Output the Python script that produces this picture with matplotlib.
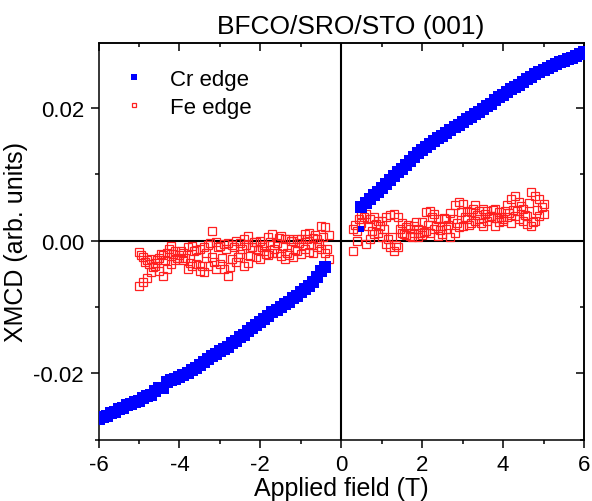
import matplotlib
matplotlib.use('Agg')
import matplotlib.pyplot as plt
from matplotlib.ticker import MultipleLocator, FormatStrFormatter, NullFormatter

plt.rcParams['font.family'] = ['Liberation Sans', 'DejaVu Sans']
plt.rcParams['axes.unicode_minus'] = False

# Cr edge, negative field branch (T) and XMCD (x1e-3)
cr_neg_field = [-6.0, -5.9, -5.8, -5.7, -5.6, -5.5, -5.4, -5.3, -5.2, -5.1,
                -5.0, -4.9, -4.8, -4.7, -4.6, -4.5, -4.4, -4.3, -4.2, -4.1,
                -4.0, -3.9, -3.8, -3.7, -3.6, -3.5, -3.4, -3.3, -3.2, -3.1,
                -3.0, -2.9, -2.8, -2.7, -2.6, -2.5, -2.4, -2.3, -2.2, -2.1,
                -2.0, -1.9, -1.8, -1.7, -1.6, -1.5, -1.4, -1.3, -1.2, -1.1,
                -1.0, -0.9, -0.8, -0.7, -0.6, -0.5, -0.4]
cr_neg_xmcd = [-26.9, -26.6, -26.5, -26.0, -25.8, -25.4, -25.2, -24.8, -24.7, -24.3,
               -24.2, -23.8, -23.5, -23.3, -22.7, -22.3, -22.2, -21.4, -21.0, -20.9,
               -20.6, -20.3, -19.9, -19.5, -19.2, -18.8, -18.3, -17.9, -17.4, -17.1,
               -16.7, -16.4, -16.0, -15.5, -15.1, -14.6, -14.2, -13.7, -13.2, -12.8,
               -12.3, -11.9, -11.3, -10.8, -10.5, -10.0, -9.6, -9.2, -8.7, -8.3,
               -7.8, -7.3, -6.9, -6.3, -5.5, -4.6, -4.0]

# Cr edge, positive field branch
cr_pos_field = [0.5, 0.6, 0.7, 0.8, 0.9, 1.0, 1.1, 1.2, 1.3, 1.4,
                1.5, 1.6, 1.7, 1.8, 1.9, 2.0, 2.1, 2.2, 2.3, 2.4,
                2.5, 2.6, 2.7, 2.8, 2.9, 3.0, 3.1, 3.2, 3.3, 3.4,
                3.5, 3.6, 3.7, 3.8, 3.9, 4.0, 4.1, 4.2, 4.3, 4.4,
                4.5, 4.6, 4.7, 4.8, 4.9, 5.0, 5.1, 5.2, 5.3, 5.4,
                5.5, 5.6, 5.7, 5.8, 5.9, 6.0]
cr_pos_xmcd = [5.0, 5.6, 6.3, 6.9, 7.4, 7.9, 8.6, 9.2, 9.8, 10.3,
               10.8, 11.4, 12.0, 12.6, 13.2, 13.7, 14.1, 14.6, 15.0, 15.4,
               15.8, 16.2, 16.7, 17.1, 17.5, 17.9, 18.3, 18.7, 19.1, 19.4,
               19.8, 20.3, 20.6, 21.2, 21.6, 22.0, 22.4, 22.8, 23.1, 23.5,
               23.9, 24.3, 24.7, 25.1, 25.5, 25.8, 26.1, 26.4, 26.6, 26.9,
               27.1, 27.4, 27.6, 27.9, 28.2, 28.5]
# lone Cr point near the origin
cr_stray_field = [0.48]
cr_stray_xmcd = [1.7]

# Fe edge, negative fields: three sweeps
fe_neg_field = [-5.0, -4.9, -4.8, -4.7, -4.6, -4.5, -4.4, -4.3, -4.2, -4.1,
                -4.0, -3.9, -3.8, -3.7, -3.6, -3.5, -3.4, -3.3, -3.2, -3.1,
                -3.0, -2.9, -2.8, -2.7, -2.6, -2.5, -2.4, -2.3, -2.2, -2.1,
                -2.0, -1.9, -1.8, -1.7, -1.6, -1.5, -1.4, -1.3, -1.2, -1.1,
                -1.0, -0.9, -0.8, -0.7, -0.6, -0.5, -0.4, -0.3]
fe_neg_sweep1 = [-1.7, -2.5, -3.0, -2.8, -3.4, -2.6, -2.2, -1.9, -0.8, -1.6,
                 -2.2, -1.9, -1.0, -0.8, -1.4, -1.2, -0.9, -0.6, 1.4, -0.2,
                 -0.8, -0.5, -0.3, -0.6, 0.0, -0.3, 0.2, 0.7, -0.9, -0.2,
                 0.0, -0.6, 0.6, 1.0, -0.3, 0.7, 0.3, 0.2, -0.1, 0.2,
                 0.3, 1.0, 1.2, 0.4, 0.2, 2.2, 2.0, 0.8]
fe_neg_sweep2 = [-6.8, -6.3, -5.6, -4.8, -3.8, -4.6, -5.3, -4.3, -3.5, -3.0,
                 -2.6, -3.0, -4.3, -3.8, -3.5, -4.6, -4.7, -3.9, -2.5, -4.3,
                 -3.6, -4.3, -5.3, -2.8, -3.2, -2.0, -3.8, -3.4, -1.0, -2.4,
                 -2.8, -1.5, -2.2, -1.8, -1.8, -2.3, -2.8, -2.2, -2.5, -1.6,
                 -2.0, -1.3, -1.7, -1.8, -1.0, -1.3, -1.8, -2.8]
fe_neg_field3 = [-4.95, -4.85, -4.75, -4.65, -4.55, -4.45, -4.35, -4.25, -4.15, -4.05,
                 -3.95, -3.85, -3.75, -3.65, -3.55, -3.45, -3.35, -3.25, -3.15, -3.05,
                 -2.95, -2.85, -2.75, -2.65, -2.55, -2.45, -2.35, -2.25, -2.15, -2.05,
                 -1.95, -1.85, -1.75, -1.65, -1.55, -1.45, -1.35, -1.25, -1.15, -1.05,
                 -0.95, -0.85, -0.75, -0.65, -0.55, -0.45, -0.35]
fe_neg_sweep3 = [-2.2, -3.2, -3.6, -4.0, -3.0, -2.0, -3.0, -1.2, -2.0, -2.6,
                 -1.5, -2.7, -3.4, -1.6, -2.4, -3.8, -1.8, -0.3, -3.2, -1.0,
                 -2.6, -1.2, -4.0, -1.0, -2.5, -1.2, -0.6, -2.3, -0.2, -1.4,
                 -0.9, -2.0, -0.2, -1.3, 0.4, -0.8, -1.9, 0.0, -1.4, -0.4,
                 -0.7, 0.2, -0.6, 0.9, -0.4, 0.6, -1.2]

# Fe edge, positive fields: three sweeps
fe_pos_field = [0.3, 0.4, 0.5, 0.6, 0.7, 0.8, 0.9, 1.0, 1.1, 1.2,
                1.3, 1.4, 1.5, 1.6, 1.7, 1.8, 1.9, 2.0, 2.1, 2.2,
                2.3, 2.4, 2.5, 2.6, 2.7, 2.8, 2.9, 3.0, 3.1, 3.2,
                3.3, 3.4, 3.5, 3.6, 3.7, 3.8, 3.9, 4.0, 4.1, 4.2,
                4.3, 4.4, 4.5, 4.6, 4.7, 4.8, 4.9, 5.0]
fe_pos_sweep1 = [1.7, 1.5, 4.0, 4.0, 3.2, 3.5, 3.0, 3.0, 3.5, 3.8,
                 4.0, 3.5, 2.7, 2.0, 1.7, 2.2, 1.7, 2.8, 4.3, 4.5,
                 4.0, 3.2, 2.2, 3.2, 4.2, 5.3, 5.8, 5.5, 4.5, 4.3,
                 5.3, 4.5, 4.8, 4.5, 3.7, 4.8, 4.3, 3.2, 5.3, 6.3,
                 6.8, 5.8, 4.8, 3.7, 7.3, 6.8, 6.3, 5.5]
fe_pos_sweep2 = [-1.5, 0.0, 2.7, -0.5, 0.2, 1.0, 1.2, 0.5, -0.5, -1.0,
                 -1.5, -1.0, 1.2, 0.8, 0.7, 1.2, 0.5, 0.8, 1.5, 1.2,
                 1.7, 0.7, 1.0, 1.7, 0.5, 1.2, 2.0, 2.2, 3.2, 2.7,
                 3.0, 3.3, 2.2, 3.0, 3.7, 2.2, 2.8, 3.0, 3.5, 2.7,
                 3.7, 3.2, 3.0, 2.5, 2.2, 3.0, 3.7, 4.0]
fe_pos_field3 = [0.35, 0.45, 0.55, 0.65, 0.75, 0.85, 0.95, 1.05, 1.15, 1.25,
                 1.35, 1.45, 1.55, 1.65, 1.75, 1.85, 1.95, 2.05, 2.15, 2.25,
                 2.35, 2.45, 2.55, 2.65, 2.75, 2.85, 2.95, 3.05, 3.15, 3.25,
                 3.35, 3.45, 3.55, 3.65, 3.75, 3.85, 3.95, 4.05, 4.15, 4.25,
                 4.35, 4.45, 4.55, 4.65, 4.75, 4.85, 4.95]
fe_pos_sweep3 = [2.4, 3.3, 3.6, 2.2, 1.5, 2.5, 2.2, 1.8, 0.2, 0.5,
                 -0.6, 1.8, 1.0, 2.4, 0.6, 2.8, 1.2, 1.3, 2.4, 3.6,
                 2.2, 1.6, 3.4, 2.4, 3.2, 2.6, 4.3, 3.6, 2.4, 4.8,
                 3.8, 2.6, 4.0, 3.6, 4.6, 3.4, 3.6, 4.4, 4.2, 4.6,
                 4.5, 5.2, 3.8, 5.6, 2.8, 4.6, 5.0]

scale = 1e-3

fig = plt.figure(figsize=(5.92, 5.02), dpi=100)
ax = fig.add_axes([98.5 / 592, 61.5 / 502, 485.5 / 592, 396.5 / 502])

ax.axhline(0, color='black', lw=1.5, zorder=1)
ax.axvline(0, color='black', lw=1.5, zorder=1)

fe_style = dict(ls='none', marker='s', ms=5.4, mfc='none', mec='#ff2020', mew=0.9)
ax.plot(fe_neg_field, [v * scale for v in fe_neg_sweep1], label='Fe edge', zorder=2, **fe_style)
ax.plot(fe_neg_field, [v * scale for v in fe_neg_sweep2], zorder=2, **fe_style)
ax.plot(fe_neg_field3, [v * scale for v in fe_neg_sweep3], zorder=2, **fe_style)
ax.plot(fe_pos_field, [v * scale for v in fe_pos_sweep1], zorder=2, **fe_style)
ax.plot(fe_pos_field, [v * scale for v in fe_pos_sweep2], zorder=2, **fe_style)
ax.plot(fe_pos_field3, [v * scale for v in fe_pos_sweep3], zorder=2, **fe_style)

cr_style = dict(ls='none', marker='s', ms=8.5, color='#0000ff', mew=0)
ax.plot(cr_neg_field, [v * scale for v in cr_neg_xmcd], label='Cr edge', zorder=3, **cr_style)
ax.plot(cr_pos_field, [v * scale for v in cr_pos_xmcd], zorder=3, **cr_style)
ax.plot(cr_stray_field, [v * scale for v in cr_stray_xmcd], ls='none', marker='s',
        ms=4, color='#0000ff', mew=0, zorder=3)

ax.set_xlim(-6, 6)
ax.set_ylim(-0.030, 0.0298)
ax.xaxis.set_major_locator(MultipleLocator(2))
ax.xaxis.set_minor_locator(MultipleLocator(1))
ax.yaxis.set_major_locator(MultipleLocator(0.02))
ax.yaxis.set_minor_locator(MultipleLocator(0.01))
ax.yaxis.set_major_formatter(FormatStrFormatter('%.2f'))
ax.xaxis.set_major_formatter(FormatStrFormatter('%d'))

for s in ax.spines.values():
    s.set_linewidth(1.1)
ax.tick_params(which='both', direction='out', width=1.1, labelsize=16, pad=5)
ax.tick_params(which='major', length=5.5)
ax.tick_params(which='minor', length=3)

# top and right axes: ticks pointing inward, no labels
top = ax.secondary_xaxis('top')
top.xaxis.set_major_locator(MultipleLocator(2))
top.xaxis.set_minor_locator(MultipleLocator(1))
top.xaxis.set_major_formatter(NullFormatter())
top.tick_params(which='both', direction='in', width=1.1)
top.tick_params(which='major', length=5.5)
top.tick_params(which='minor', length=3)
right = ax.secondary_yaxis('right')
right.yaxis.set_major_locator(MultipleLocator(0.02))
right.yaxis.set_minor_locator(MultipleLocator(0.01))
right.yaxis.set_major_formatter(NullFormatter())
right.tick_params(which='both', direction='in', width=1.1)
right.tick_params(which='major', length=5.5)
right.tick_params(which='minor', length=3)
for sec in (top, right):
    for s in sec.spines.values():
        s.set_linewidth(1.1)

ax.set_xlabel('Applied field (T)', fontsize=18, labelpad=1)
ax.set_ylabel('XMCD (arb. units)', fontsize=18, labelpad=4)
ax.text(0.52, 1.012, 'BFCO/SRO/STO (001)', transform=ax.transAxes,
        ha='center', va='bottom', fontsize=19)

handles, labels = ax.get_legend_handles_labels()
ax.legend(handles[::-1], labels[::-1], loc='upper left', bbox_to_anchor=(0.005, 0.985),
          frameon=False, fontsize=16, markerscale=0.55, handlelength=1.2,
          handletextpad=1.0, labelspacing=0.3, borderaxespad=0.5)

fig.savefig('out.png', dpi=100)
